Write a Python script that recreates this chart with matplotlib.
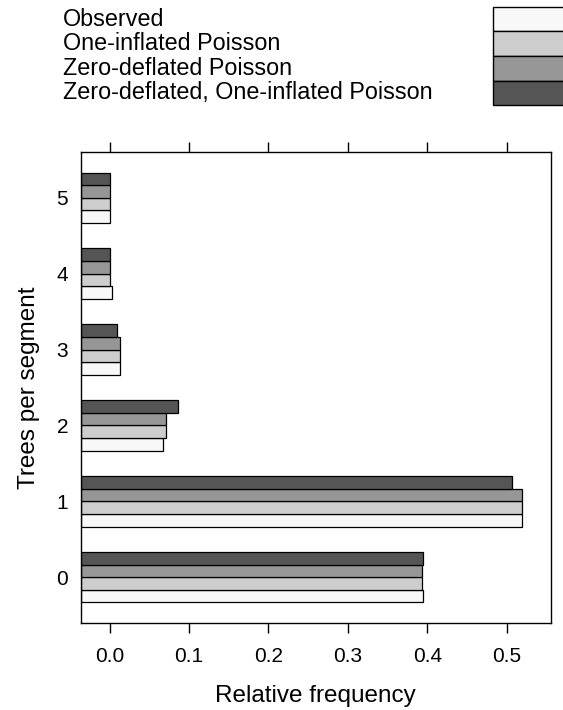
import matplotlib.pyplot as plt
import numpy as np
from matplotlib.patches import Rectangle

plt.rcParams['font.family'] = ['Liberation Sans', 'DejaVu Sans']

# Daten
categories = ['0', '1', '2', '3', '4', '5']
series = ['Observed', 'One-inflated Poisson', 'Zero-deflated Poisson',
          'Zero-deflated, One-inflated Poisson']
observed = [0.395, 0.519, 0.0675, 0.013, 0.003, 0.0005]
one_infl = [0.393, 0.519, 0.0705, 0.0135, 0.001, 0.0]
zero_defl = [0.393, 0.519, 0.0705, 0.0135, 0.001, 0.0]
zdoi = [0.395, 0.507, 0.086, 0.009, 0.0, 0.0]
colors = ['#f8f8f8', '#cdcdcd', '#969696', '#555555']
xticks = [0.0, 0.1, 0.2, 0.3, 0.4, 0.5]

values = [observed, one_infl, zero_defl, zdoi]

fig = plt.figure(figsize=(5.63, 7.10), dpi=100)
ax = fig.add_axes([0.1433, 0.1230, 0.8349, 0.6625])

# Achsengrenzen wie bei lattice (7% Erweiterung)
allv = np.concatenate([np.array(v) for v in values])
lo, hi = allv.min(), allv.max()
pad = 0.07 * (hi - lo)
x0, x1 = lo - pad, hi + pad

y = np.arange(len(categories))
h = (2 / 3) / len(series)
for i, (vals, c) in enumerate(zip(values, colors)):
    pos = y - 1 / 3 + h * (i + 0.5)
    ax.barh(pos, np.array(vals) - x0, left=x0, height=h, color=c,
            edgecolor='black', linewidth=0.9)

ax.set_xlim(x0, x1)
ax.set_ylim(-0.6, len(categories) - 0.4)
ax.set_xticks(xticks)
ax.set_xticklabels([f'{t:.1f}' for t in xticks], fontsize=15)
ax.set_yticks(y)
ax.set_yticklabels(categories, fontsize=15)
ax.tick_params(axis='x', direction='out', length=7.5, width=1, top=True,
               labeltop=False, pad=10)
ax.tick_params(axis='y', length=0, pad=9)
for s in ax.spines.values():
    s.set_linewidth(1)

ax.set_xlabel('Relative frequency', fontsize=17.5, labelpad=14)
ax.set_ylabel('Trees per segment', fontsize=17.5, labelpad=12)

# Legende oben
W, H = 563, 710
row_h = 24.6
top = 6.7
for i, (lab, c) in enumerate(zip(series, colors)):
    yc = top + row_h * (i + 0.5)
    fig.text(63 / W, 1 - yc / H, lab, fontsize=16.8, va='center', ha='left')
    fig.patches.append(Rectangle((493 / W, 1 - (top + row_h * (i + 1)) / H),
                                 80 / W, row_h / H, facecolor=c,
                                 edgecolor='black', linewidth=1,
                                 transform=fig.transFigure, figure=fig))

fig.savefig('out.png', dpi=100)
